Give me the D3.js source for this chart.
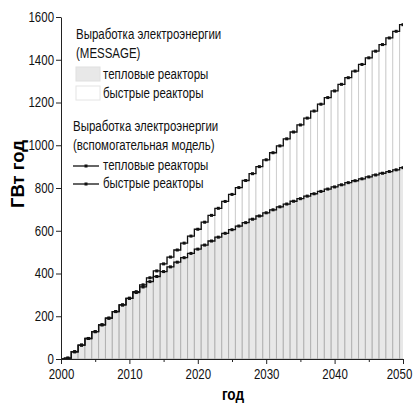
<!DOCTYPE html>
<html>
<head>
<meta charset="utf-8">
<script src="https://cdn.jsdelivr.net/npm/d3@7"></script>
<style>
  html, body { margin: 0; padding: 0; background: #fff; }
  svg { display: block; }
  .tick text { font-family: "Liberation Sans", Arial, sans-serif; font-size: 14px; fill: #111; }
</style>
</head>
<body>
<svg id="chart" width="414" height="406"></svg>
<script>
// ---- data ----
const years = [2000,2001,2002,2003,2004,2005,2006,2007,2008,2009,
  2010,2011,2012,2013,2014,2015,2016,2017,2018,2019,
  2020,2021,2022,2023,2024,2025,2026,2027,2028,2029,
  2030,2031,2032,2033,2034,2035,2036,2037,2038,2039,
  2040,2041,2042,2043,2044,2045,2046,2047,2048,2049,2050];

// thermal reactors generation (GW·year)
const thermal = [0,4,34,65,96,128,160,191,222,253,
  284,311,337,362,386,409,431,453,474,494,
  514,533,552,570,588,605,622,638,654,669,
  684,698,712,725,738,750,762,773,784,795,
  805,815,825,834,843,852,861,869,877,885,895];

// thermal + fast reactors generation (GW·year)
const total = [0,4,34,65,96,128,160,191,222,253,
  284,315,347,380,412,445,477,510,542,575,
  607,640,672,705,737,770,802,835,867,900,
  932,965,997,1030,1062,1095,1127,1160,1192,1223,
  1254,1285,1316,1347,1378,1409,1440,1471,1502,1533,1564];

const yTicks = [0,200,400,600,800,1000,1200,1400,1600];
const xTicks = [2000,2010,2020,2030,2040,2050];
const xMinorTicks = [2005,2015,2025,2035,2045];

const legendTitle1 = ["Выработка электроэнергии", "(MESSAGE)"];
const legendTitle2 = ["Выработка электроэнергии", "(вспомогательная модель)"];
const seriesNames = ["тепловые реакторы", "быстрые реакторы"];
const xLabel = "год";
const yLabel = "ГВт год";

// ---- drawing ----
const W = 414, H = 406;
const m = {left: 61, top: 17, right: 11, bottom: 47};
const svg = d3.select("#chart");
const FONT = '"Liberation Sans", Arial, sans-serif';
const SX = 0.82; // horizontal condensing to mimic a narrow face

const x = d3.scaleLinear().domain([2000, 2050]).range([m.left, W - m.right]);
const y = d3.scaleLinear().domain([0, 1600]).range([H - m.bottom, m.top]);

svg.append("defs").append("clipPath").attr("id", "plotclip")
  .append("rect")
  .attr("x", x(2000)).attr("y", y(1600))
  .attr("width", x(2050) - x(2000)).attr("height", y(0) - y(1600));

const plot = svg.append("g").attr("clip-path", "url(#plotclip)");

const data = years.map((yr, i) => ({yr, th: thermal[i], tot: total[i]}));

// fast reactor bars (white, stacked on top)
plot.append("g").selectAll("rect").data(data).join("rect")
  .attr("x", d => x(d.yr - 0.5))
  .attr("width", d => x(d.yr + 0.5) - x(d.yr - 0.5))
  .attr("y", d => y(d.tot))
  .attr("height", d => y(d.th) - y(d.tot))
  .attr("fill", "#fff")
  .attr("stroke", "#cfcfcf")
  .attr("stroke-width", 1);

// thermal reactor bars (light gray)
plot.append("g").selectAll("rect").data(data).join("rect")
  .attr("x", d => x(d.yr - 0.5))
  .attr("width", d => x(d.yr + 0.5) - x(d.yr - 0.5))
  .attr("y", d => y(d.th))
  .attr("height", d => y(0) - y(d.th))
  .attr("fill", "#e8e8e8")
  .attr("stroke", "#b2b2b2")
  .attr("stroke-width", 1);

// step lines
function stepPts(key) {
  const pts = [];
  data.forEach(d => { pts.push([d.yr - 0.5, d[key]]); pts.push([d.yr + 0.5, d[key]]); });
  return pts;
}
const line = d3.line().x(p => x(p[0])).y(p => y(p[1]));
["th", "tot"].forEach(key => {
  plot.append("path").attr("d", line(stepPts(key)))
    .attr("fill", "none").attr("stroke", "#111").attr("stroke-width", 1.3);
  plot.append("g").selectAll("rect").data(data.filter(d => d.yr > 2000)).join("rect")
    .attr("x", d => x(d.yr) - 1.5).attr("y", d => y(d[key]) - 1.5)
    .attr("width", 3).attr("height", 3).attr("fill", "#111");
});

// axes
const axL = svg.append("g").attr("transform", `translate(${x(2000)},0)`)
  .call(d3.axisLeft(y).tickValues(yTicks).tickFormat(d3.format("d")).tickSize(5).tickSizeOuter(0).tickPadding(2));
const axB = svg.append("g").attr("transform", `translate(0,${y(0)})`)
  .call(d3.axisBottom(x).tickValues(xTicks).tickFormat(d3.format("d")).tickSize(5).tickSizeOuter(0).tickPadding(5));
svg.append("g").attr("transform", `translate(0,${y(0)})`)
  .call(d3.axisBottom(x).tickValues(xMinorTicks).tickFormat("").tickSize(3).tickSizeOuter(0))
  .select(".domain").remove();
svg.selectAll(".domain, .tick line").attr("stroke", "#222").attr("stroke-width", 1);

// condense tick labels around their anchor x
axL.selectAll(".tick text").attr("transform", function() {
  const ax = +d3.select(this).attr("x");
  return `translate(${ax},0) scale(${SX},1) translate(${-ax},0)`;
});
axB.selectAll(".tick text").attr("transform", d => d === 2050 ? `translate(-4,0) scale(${SX},1)` : `scale(${SX},1)`);

// helper for condensed text
function ctext(g, tx, ty, str, anchor) {
  return g.append("text").attr("transform", `translate(${tx},${ty}) scale(${SX},1)`)
    .attr("text-anchor", anchor || "start").text(str);
}

// axis titles
svg.append("text").attr("transform", `translate(${(x(2000) + x(2050)) / 2 + 1},400) scale(0.85,1)`)
  .attr("text-anchor", "middle").attr("font-family", FONT).attr("font-weight", "bold")
  .attr("font-size", 16).text(xLabel);
svg.append("text").attr("transform", `translate(24,174) rotate(-90)`)
  .attr("text-anchor", "middle").attr("font-family", FONT).attr("font-weight", "bold")
  .attr("font-size", 18.5).text(yLabel);

// legend
const lg = svg.append("g").attr("font-family", FONT).attr("font-size", 14).attr("fill", "#111");
ctext(lg, 76, 39, legendTitle1[0]);
ctext(lg, 76, 58, legendTitle1[1]);
lg.append("rect").attr("x", 76).attr("y", 67).attr("width", 24).attr("height", 14)
  .attr("fill", "#e8e8e8").attr("stroke", "#e0e0e0");
ctext(lg, 103, 79, seriesNames[0]);
lg.append("rect").attr("x", 76).attr("y", 86).attr("width", 24).attr("height", 14)
  .attr("fill", "#fff").attr("stroke", "#e4e4e4");
ctext(lg, 103, 98, seriesNames[1]);
ctext(lg, 73, 131, legendTitle2[0]);
ctext(lg, 73, 150, legendTitle2[1]);
[166, 184].forEach((ly, i) => {
  lg.append("line").attr("x1", 73).attr("x2", 99).attr("y1", ly).attr("y2", ly)
    .attr("stroke", "#111").attr("stroke-width", 1.3);
  lg.append("rect").attr("x", 84.5).attr("y", ly - 1.5).attr("width", 3).attr("height", 3).attr("fill", "#111");
  ctext(lg, 103, ly + 4, seriesNames[i]);
});
</script>
</body>
</html>
